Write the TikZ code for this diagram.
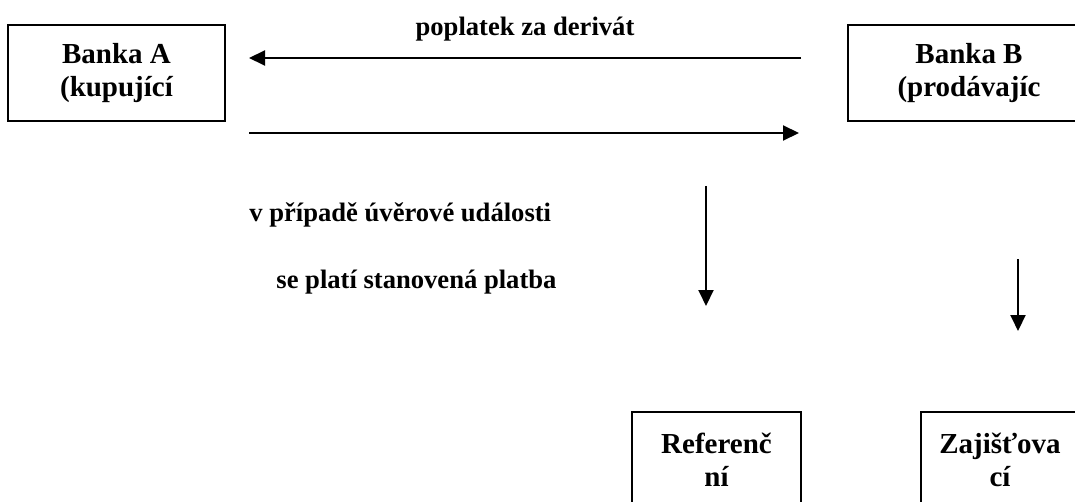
\documentclass[tikz,border=0pt]{standalone}
\usepackage{fontspec}
\setmainfont{Liberation Serif}
\usepackage{tikz}
\usetikzlibrary{arrows.meta,positioning,calc}

\begin{document}
\begin{tikzpicture}[
    x=0.5pt, y=-0.5pt,
    box/.style={rectangle, draw, line width=1pt, align=center, inner sep=0pt,
                font=\fontsize{14.5pt}{16.5pt}\selectfont\bfseries},
    bank/.style={box, minimum height=48pt},
    party/.style={box, minimum height=48pt},
    arrow/.style={-{Triangle[length=8pt, width=7.5pt]}, line width=1pt},
    lbl/.style={font=\fontsize{13.3pt}{16pt}\selectfont\bfseries, inner sep=0pt},
]
\useasboundingbox (0,0) rectangle (1075,502);
\clip (0,0) rectangle (1075,502);

% ── Banks (top row) ─────────────────────────────────────────────────────
\node[bank, minimum width=108.5pt] (bankA) at (116.5,73) {Banka A\\(kupující};
\node[bank, minimum width=121pt]   (bankB) at (969,73)   {Banka B\\(prodávajíc};

% ── Reference and hedged entities (bottom row) ──────────────────────────
\node[party, minimum width=84.5pt] (refer)  at (716.5,460) {Referenč\\ní};
\node[party, minimum width=79pt]   (zajist) at (1000,460)  {Zajišťova\\cí};

% ── Fee and payment between the banks ───────────────────────────────────
\draw[arrow] ($(bankB.west)+(-46,-15)$) -- ($(bankA.east)+(23,-15)$)
    node[lbl, midway, anchor=base, yshift=11pt] {poplatek za derivát};
\draw[arrow] ($(bankA.east)+(23,60)$) -- ($(bankB.west)+(-48,60)$);

% ── Credit event ─────────────────────────────────────────────────────────
\draw[arrow] ($(refer.north)+(-10.5,-225)$) -- ($(refer.north)+(-10.5,-105)$);
\draw[arrow] ($(zajist.north)+(18,-152)$)   -- ($(zajist.north)+(18,-80)$);

\node[lbl, anchor=base west] (event) at (249,221) {v případě úvěrové události};
\node[lbl, anchor=base west] (pay)   at (276,288) {se platí stanovená platba};

\end{tikzpicture}
\end{document}
